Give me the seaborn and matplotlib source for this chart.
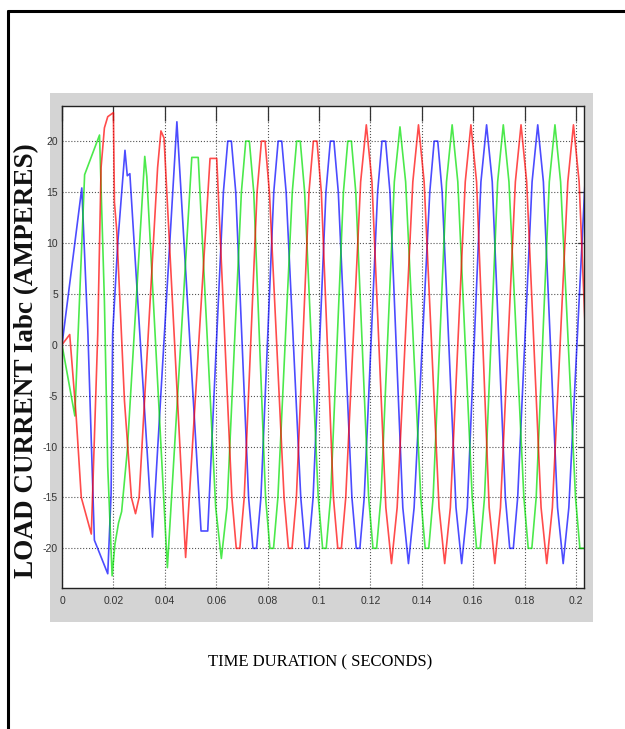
import numpy as np
import pandas as pd
import matplotlib
matplotlib.use("Agg")
import matplotlib.pyplot as plt
import seaborn as sns
from matplotlib.patches import Rectangle
from matplotlib.lines import Line2D

# Load current traces (time in s, current in A)
# start-up transient first, then the steady cycles (peak shoulders included)
blue_t = [0.0, 0.0077, 0.0101, 0.0126, 0.0178, 0.0191, 0.0197, 0.0217, 0.0245, 0.0254, 0.0264, 0.0352, 0.0447,
          0.0541, 0.0567,
          0.0628, 0.0645, 0.0659, 0.0676, 0.0726, 0.0743, 0.0757, 0.0774,
          0.0824, 0.0841, 0.0855, 0.0872, 0.0929, 0.0946, 0.0960, 0.0977,
          0.1027, 0.1044, 0.1058, 0.1075, 0.1128, 0.1145, 0.1159, 0.1176,
          0.1228, 0.1245, 0.1259, 0.1276, 0.1326, 0.1348, 0.1370,
          0.1431, 0.1448, 0.1462, 0.1479, 0.1533, 0.1555, 0.1577,
          0.1630, 0.1652, 0.1674, 0.1725, 0.1742, 0.1756, 0.1773,
          0.1829, 0.1851, 0.1873, 0.1928, 0.1950, 0.1972, 0.2035]
blue_i = [0.0, 15.4, 1.0, -19.2, -22.5, -14.7, 1.0, 10.0, 19.1, 16.6, 16.8, -18.9, 21.9,
          -18.3, -18.3,
          15.0, 20.0, 20.0, 15.0, -15.0, -20.0, -20.0, -15.0,
          15.0, 20.0, 20.0, 15.0, -15.0, -20.0, -20.0, -15.0,
          15.0, 20.0, 20.0, 15.0, -15.0, -20.0, -20.0, -15.0,
          15.0, 20.0, 20.0, 15.0, -16.0, -21.5, -16.0,
          15.0, 20.0, 20.0, 15.0, -16.0, -21.5, -16.0,
          16.0, 21.6, 16.0, -15.0, -20.0, -20.0, -15.0,
          16.0, 21.6, 16.0, -16.0, -21.5, -16.0, 16.0]

green_t = [0.0, 0.0050, 0.0061, 0.0088, 0.0146, 0.0165, 0.0178, 0.0195, 0.0206, 0.0220, 0.0232, 0.0254,
           0.0322, 0.0330, 0.0410, 0.0505, 0.0530,
           0.0598, 0.0620, 0.0642, 0.0698, 0.0715, 0.0729, 0.0746,
           0.0792, 0.0809, 0.0823, 0.0840, 0.0896, 0.0913, 0.0927, 0.0944,
           0.0997, 0.1014, 0.1028, 0.1045, 0.1095, 0.1112, 0.1126, 0.1143,
           0.1193, 0.1210, 0.1224, 0.1241, 0.1293, 0.1315, 0.1337,
           0.1396, 0.1413, 0.1427, 0.1444, 0.1496, 0.1518, 0.1540,
           0.1596, 0.1613, 0.1627, 0.1644, 0.1695, 0.1717, 0.1739,
           0.1797, 0.1814, 0.1828, 0.1845, 0.1896, 0.1918, 0.1940,
           0.1998, 0.2015, 0.2035]
green_i = [0.0, -7.0, 0.0, 16.7, 20.6, 4.3, -12.0, -22.7, -19.6, -17.5, -16.4, -10.4,
           18.5, 16.5, -21.9, 18.4, 18.4,
           -16.0, -21.0, -16.0, 15.0, 20.0, 20.0, 15.0,
           -15.0, -20.0, -20.0, -15.0, 15.0, 20.0, 20.0, 15.0,
           -15.0, -20.0, -20.0, -15.0, 15.0, 20.0, 20.0, 15.0,
           -15.0, -20.0, -20.0, -15.0, 16.0, 21.4, 16.0,
           -15.0, -20.0, -20.0, -15.0, 16.0, 21.6, 16.0,
           -15.0, -20.0, -20.0, -15.0, 16.0, 21.6, 16.0,
           -15.0, -20.0, -20.0, -15.0, 16.0, 21.6, 16.0,
           -15.0, -20.0, -20.0]

red_t = [0.0, 0.0030, 0.0055, 0.0075, 0.0114, 0.0139, 0.0152, 0.0165, 0.0178, 0.0200, 0.0204, 0.0213,
         0.0243, 0.0270, 0.0286, 0.0300, 0.0372, 0.0385, 0.0397, 0.0481, 0.0576, 0.0602,
         0.0661, 0.0678, 0.0692, 0.0709, 0.0759, 0.0776, 0.0790, 0.0807,
         0.0864, 0.0881, 0.0895, 0.0912, 0.0961, 0.0978, 0.0992, 0.1009,
         0.1056, 0.1073, 0.1087, 0.1104, 0.1162, 0.1184, 0.1206,
         0.1260, 0.1282, 0.1304, 0.1365, 0.1387, 0.1409,
         0.1467, 0.1489, 0.1511, 0.1569, 0.1591, 0.1613,
         0.1662, 0.1684, 0.1706, 0.1764, 0.1786, 0.1808,
         0.1864, 0.1886, 0.1908, 0.1968, 0.1990, 0.2012, 0.2035]
red_i = [0.0, 1.0, -7.0, -15.0, -18.6, 1.0, 17.4, 21.3, 22.4, 22.8, 14.0, 11.2,
         -5.5, -15.0, -16.6, -15.0, 17.4, 21.0, 20.3, -20.9, 18.3, 18.3,
         -15.0, -20.0, -20.0, -15.0, 15.0, 20.0, 20.0, 15.0,
         -15.0, -20.0, -20.0, -15.0, 15.0, 20.0, 20.0, 15.0,
         -15.0, -20.0, -20.0, -15.0, 16.0, 21.6, 16.0,
         -16.0, -21.5, -16.0, 16.0, 21.6, 16.0,
         -16.0, -21.5, -16.0, 16.0, 21.6, 16.0,
         -16.0, -21.5, -16.0, 16.0, 21.6, 16.0,
         -16.0, -21.5, -16.0, 16.0, 21.6, 16.0, 2.0]

x_ticks = [0, 0.02, 0.04, 0.06, 0.08, 0.1, 0.12, 0.14, 0.16, 0.18, 0.2]
x_tick_labels = ["0", "0.02", "0.04", "0.06", "0.08", "0.1", "0.12", "0.14", "0.16", "0.18", "0.2"]
y_ticks = [-20, -15, -10, -5, 0, 5, 10, 15, 20]
y_tick_labels = ["-20", "-15", "-10", "-5", "0", "5", "10", "15", "20"]

# Build one long table for seaborn
frames = []
for name, t, i in [("a", blue_t, blue_i), ("b", green_t, green_i), ("c", red_t, red_i)]:
    frames.append(pd.DataFrame({"time": t, "current": i, "phase": name}))
df = pd.concat(frames, ignore_index=True)

sns.set_style("white")
W, H = 625, 729
fig = plt.figure(figsize=(W / 100, H / 100), dpi=100)

# grey scope panel behind the axes
fig.patches.append(Rectangle((50 / W, 1 - 622 / H), 543 / W, 529 / H, transform=fig.transFigure,
                             facecolor="#d4d4d4", edgecolor="none", zorder=0))
# page frame (top and left edges)
fig.add_artist(Line2D([8 / W, 1], [1 - 11 / H, 1 - 11 / H], color="black", lw=2.2, transform=fig.transFigure))
fig.add_artist(Line2D([8 / W, 8 / W], [0, 1 - 11 / H], color="black", lw=2.2, transform=fig.transFigure))

ax = fig.add_axes([62 / W, 1 - 588 / H, 522 / W, 482 / H])
ax.set_zorder(2)
ax.set_facecolor("white")

sns.lineplot(data=df, x="time", y="current", hue="phase",
             palette={"a": "#0000ff", "b": "#00e000", "c": "#ff0000"},
             sort=False, estimator=None, legend=False, lw=1.2, alpha=0.7, ax=ax)

ax.set_xlim(0, 0.2031)
ax.set_ylim(-23.9, 23.45)
ax.set_xlabel("")
ax.set_ylabel("")

ax.set_xticks(x_ticks)
ax.set_xticklabels(x_tick_labels, family="Liberation Sans", fontsize=7.5, color="#333333")
ax.set_yticks(y_ticks)
ax.set_yticklabels(y_tick_labels, family="Liberation Sans", fontsize=7.5, color="#333333")
ax.tick_params(axis="x", direction="in", length=11, width=0.9, top=True, pad=6, color="#333333")
ax.tick_params(axis="y", direction="in", length=4.5, width=0.9, right=True, pad=3, color="#333333")

ax.grid(True, linestyle=":", color="#555555", linewidth=0.8)
ax.set_axisbelow(True)
for s in ax.spines.values():
    s.set_color("#222222")
    s.set_linewidth(1.0)

fig.text(27 / W, 1 - 361 / H, "LOAD CURRENT Iabc (AMPERES)", rotation=90, ha="center", va="center",
         fontsize=19.5, fontweight="bold", family="Liberation Serif", color="#111111")
fig.text(320 / W, 1 - 662 / H, "TIME DURATION ( SECONDS)", ha="center", va="center",
         fontsize=12, family="Liberation Serif", color="black")

fig.savefig("out.png", dpi=100)
